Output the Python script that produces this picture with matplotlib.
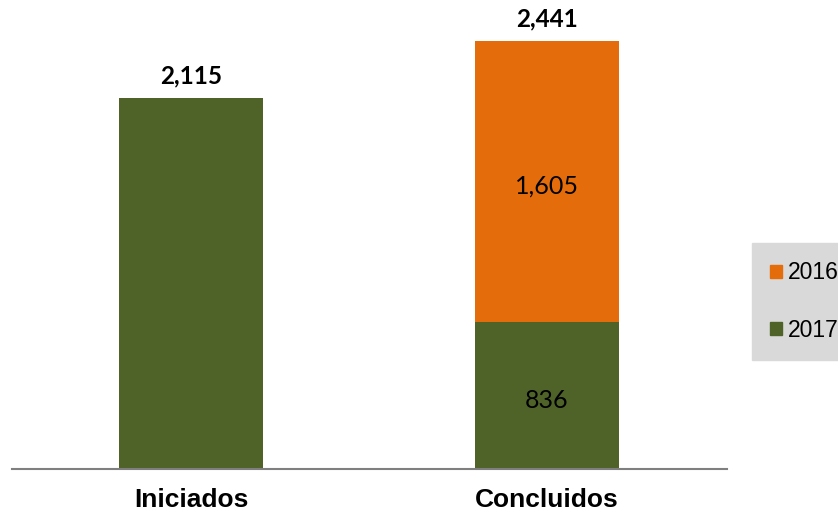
import matplotlib.pyplot as plt
from matplotlib.patches import Patch

categories = ['Iniciados', 'Concluidos']
vals_2017 = [2115, 836]
vals_2016 = [0, 1605]
totals = [2115, 2441]

green = '#4F6228'
orange = '#E46C0A'

fig = plt.figure(figsize=(8.38, 5.15), dpi=100)
ax = fig.add_axes([12 / 838, 46 / 515, 715 / 838, 469 / 515])

x = range(len(categories))
ax.bar(x, vals_2017, width=0.404, color=green, label='2017')
ax.bar(x, vals_2016, width=0.404, bottom=vals_2017, color=orange, label='2016')

ax.set_xlim(-0.503, 1.506)
ax.set_ylim(0, 2675)

# totals above bars
for i, t in enumerate(totals):
    ax.text(i, t + 60, f'{t:,}', ha='center', va='bottom', family='Lato',
            fontweight='bold', fontsize=17.5, color='black')

# segment labels inside the stacked bar
ax.text(1, vals_2017[1] / 2 - 25, f'{vals_2017[1]:,}', ha='center', va='center',
        family='Lato', fontsize=18, color='black')
ax.text(1, vals_2017[1] + vals_2016[1] / 2 - 25, f'{vals_2016[1]:,}', ha='center',
        va='center', family='Lato', fontsize=18, color='black')

for s in ['top', 'right', 'left']:
    ax.spines[s].set_visible(False)
ax.spines['bottom'].set_color('#7f7f7f')
ax.spines['bottom'].set_linewidth(1.5)
ax.set_yticks([])
ax.set_xticks(list(x))
ax.set_xticklabels(categories, family='Liberation Sans', fontweight='bold', fontsize=19)
ax.tick_params(axis='x', length=0, pad=14)

handles = [Patch(color=orange, label='2016'), Patch(color=green, label='2017')]
leg = fig.legend(handles=handles, loc='upper left', bbox_to_anchor=(752 / 838, 1 - 243 / 515),
                 frameon=True, fancybox=False, facecolor='#D9D9D9', edgecolor='#D9D9D9',
                 prop={'family': 'Liberation Sans', 'size': 16.5}, handlelength=0.5,
                 handleheight=0.5, handletextpad=0.25, labelspacing=1.5, borderpad=0.8,
                 borderaxespad=0)
leg._legend_box.align = 'left'
leg.get_frame().set_alpha(1)

fig.savefig('out.png', dpi=100)
